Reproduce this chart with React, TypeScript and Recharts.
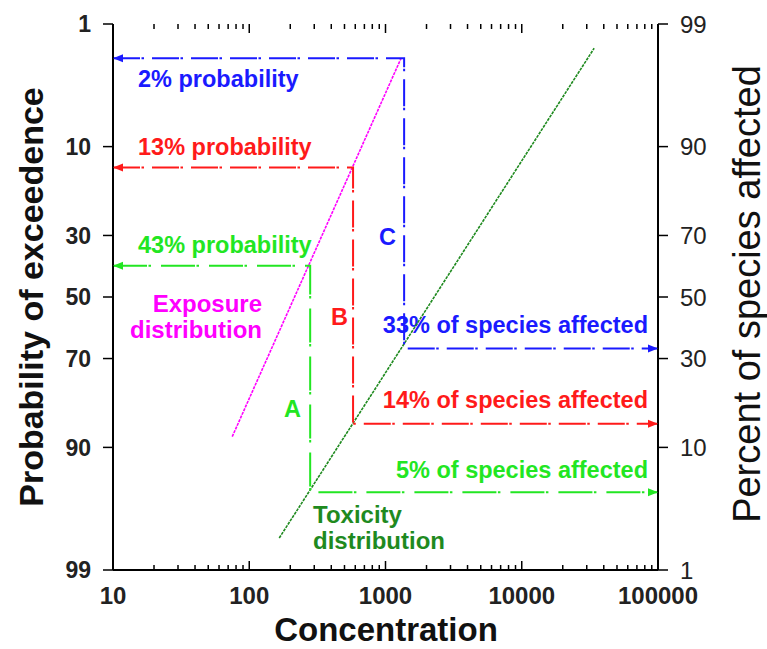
import { ComposedChart, Line, XAxis, YAxis, Customized } from 'recharts'

// inverse of the standard normal cdf (Acklam), used for the probit axis
function probit(p: number): number {
  const a = [-39.69683028665376, 220.9460984245205, -275.9285104469687, 138.357751867269, -30.66479806614716, 2.506628277459239]
  const b = [-54.47609879822406, 161.5858368580409, -155.6989798598866, 66.80131188771972, -13.28068155288572]
  const c = [-0.007784894002430293, -0.3223964580411365, -2.400758277161838, -2.549732539343734, 4.374664141464968, 2.938163982698783]
  const d = [0.007784695709041462, 0.3224671290700398, 2.445134137142996, 3.754408661907416]
  const pl = 0.02425
  if (p < pl) {
    const q = Math.sqrt(-2 * Math.log(p))
    return (((((c[0] * q + c[1]) * q + c[2]) * q + c[3]) * q + c[4]) * q + c[5]) / ((((d[0] * q + d[1]) * q + d[2]) * q + d[3]) * q + 1)
  }
  if (p > 1 - pl) return -probit(1 - p)
  const q = p - 0.5
  const r = q * q
  return ((((((a[0] * r + a[1]) * r + a[2]) * r + a[3]) * r + a[4]) * r + a[5]) * q) / (((((b[0] * r + b[1]) * r + b[2]) * r + b[3]) * r + b[4]) * r + 1)
}

const yTickProbs = [1, 10, 30, 50, 70, 90, 99]
const yLeftLabels = ['1', '10', '30', '50', '70', '90', '99']
const yRightLabels = ['99', '90', '70', '50', '30', '10', '1']
const xTicks = [10, 100, 1000, 10000, 100000]
const xTickLabels = ['10', '100', '1000', '10000', '100000']
const minorMultipliers = [2, 3, 4, 5, 6, 7, 8, 9]
const minorDecades = [10, 100, 1000, 10000]

// exposure distribution (probability of exceedence, %)
const exposureConc = [75, 1300]
const exposureExceed = [88.3, 2.1]
// toxicity distribution (percent of species affected)
const toxicityConc = [166, 34000]
const toxicityAffected = [2.0, 98.3]

// read-off lines: concentration and probability of exceedence (%)
const blueConc = [10, 1370, 1370, 100000]
const blueExceed = [2.1, 2.1, 67, 67]
const redConc = [10, 578, 578, 100000]
const redExceed = [13.5, 13.5, 86, 86]
const greenConc = [10, 280, 280, 100000]
const greenExceed = [39.5, 39.5, 95.2, 95.2]

const FONT = '"Liberation Sans", Arial, Helvetica, sans-serif'
const BLUE = '#1a1aff'
const RED = '#ff1a1a'
const GREEN = '#22e622'
const MAGENTA = '#ff00ff'
const DARKGREEN = '#1f8a1f'

const TOP = 24
const X_LABEL_GAP = 17

const yTicks = yTickProbs.map((p) => probit(p / 100))
const yDomain = [probit(0.01), probit(0.99)]
const minorTicks = minorDecades.flatMap((d) => minorMultipliers.map((m) => m * d))
const allXTicks = [...xTicks, ...minorTicks].sort((a, b) => a - b)

const toRows = (conc: number[], exceed: number[]) =>
  conc.map((x, i) => ({ x, y: probit(exceed[i] / 100) }))

const exposureData = toRows(exposureConc, exposureExceed)
const toxicityData = toRows(toxicityConc, toxicityAffected.map((v) => 100 - v))
const blueData = toRows(blueConc, blueExceed)
const redData = toRows(redConc, redExceed)
const greenData = toRows(greenConc, greenExceed)

const arrowDot = (color: string, count: number) => (props: any) => {
  const { cx, cy, index } = props
  if (index === 0) {
    return <path key={`dot-${index}`} d={`M${cx},${cy} l10,-4 l0,8 z`} fill={color} />
  }
  if (index === count - 1) {
    return <path key={`dot-${index}`} d={`M${cx},${cy} l-10,-4 l0,8 z`} fill={color} />
  }
  return <g key={`dot-${index}`} />
}

// inward tick marks on bottom and top frame, label only on decades
function XTick(props: any) {
  const { x, y, payload } = props
  const major = xTicks.indexOf(payload.value)
  const len = major >= 0 ? 9 : 5
  const base = y - X_LABEL_GAP
  return (
    <g>
      <line x1={x} x2={x} y1={base} y2={base - len} stroke="#000" strokeWidth={1.5} />
      <line x1={x} x2={x} y1={TOP} y2={TOP + len} stroke="#000" strokeWidth={1.5} />
      {major >= 0 && (
        <text x={x} y={y} dy="0.71em" textAnchor="middle" fill="#222" style={{ fontFamily: FONT, fontWeight: 700, fontSize: 24 }}>
          {xTickLabels[major]}
        </text>
      )}
    </g>
  )
}

function Annotations() {
  const lbl = { fontFamily: FONT, fontWeight: 700, fontSize: 23.5 }
  const dist = { fontFamily: FONT, fontWeight: 700, fontSize: 24 }
  return (
    <g>
      <text x={138} y={87} fill={BLUE} style={lbl}>2% probability</text>
      <text x={138} y={155} fill={RED} style={lbl}>13% probability</text>
      <text x={138} y={253} fill={GREEN} style={lbl}>43% probability</text>
      <text x={648} y={333} fill={BLUE} textAnchor="end" style={lbl}>33% of species affected</text>
      <text x={648} y={408} fill={RED} textAnchor="end" style={lbl}>14% of species affected</text>
      <text x={648} y={478} fill={GREEN} textAnchor="end" style={lbl}>5% of species affected</text>
      <text x={379} y={245} fill={BLUE} style={lbl}>C</text>
      <text x={331} y={325} fill={RED} style={lbl}>B</text>
      <text x={284} y={417} fill={GREEN} style={lbl}>A</text>
      <text x={262} y={312} fill={MAGENTA} textAnchor="end" style={dist}>Exposure</text>
      <text x={262} y={338} fill={MAGENTA} textAnchor="end" style={dist}>distribution</text>
      <text x={313} y={523} fill={DARKGREEN} style={dist}>Toxicity</text>
      <text x={313} y={549} fill={DARKGREEN} style={dist}>distribution</text>
      <text x={386} y={641} textAnchor="middle" fill="#111" style={{ fontFamily: FONT, fontWeight: 700, fontSize: 33 }}>
        Concentration
      </text>
      <text x={43} y={297} textAnchor="middle" transform="rotate(-90 43 297)" fill="#111" style={{ fontFamily: FONT, fontWeight: 700, fontSize: 34 }}>
        Probability of exceedence
      </text>
      <text x={760} y={294} textAnchor="middle" transform="rotate(-90 760 294)" fill="#111" style={{ fontFamily: FONT, fontWeight: 400, fontSize: 38 }}>
        Percent of species affected
      </text>
    </g>
  )
}

export default function App() {
  const axisLine = { stroke: '#000', strokeWidth: 2 }
  const tickLine = { stroke: '#000', strokeWidth: 1.5 }
  return (
    <div style={{ position: 'absolute', left: 0, top: 0, width: 767, height: 649, background: '#fff' }}>
      <ComposedChart width={767} height={649} margin={{ top: TOP, right: 0, bottom: 0, left: 0 }}>
        <XAxis
          xAxisId="main"
          dataKey="x"
          type="number"
          scale="log"
          domain={[10, 100000]}
          allowDataOverflow
          ticks={allXTicks}
          height={79}
          tickLine={false}
          tickSize={0}
          tickMargin={X_LABEL_GAP}
          axisLine={axisLine}
          tick={<XTick />}
          interval={0}
        />
        <XAxis xAxisId="frameTop" dataKey="x" type="number" scale="log" domain={[10, 100000]} allowDataOverflow orientation="top" mirror height={0} tick={false} tickLine={false} axisLine={axisLine} />
        <YAxis
          yAxisId="left"
          dataKey="y"
          type="number"
          domain={yDomain}
          allowDataOverflow
          reversed
          ticks={yTicks}
          tickFormatter={(_v: number, i: number) => yLeftLabels[i]}
          width={113}
          tickSize={10}
          tickMargin={12}
          tickLine={tickLine}
          axisLine={axisLine}
          tick={{ fill: '#222', fontSize: 23, fontWeight: 700, fontFamily: FONT }}
          interval={0}
        />
        <YAxis
          yAxisId="right"
          orientation="right"
          dataKey="y"
          type="number"
          domain={yDomain}
          allowDataOverflow
          reversed
          ticks={yTicks}
          tickFormatter={(_v: number, i: number) => yRightLabels[i]}
          width={109}
          tickSize={10}
          tickMargin={12}
          tickLine={tickLine}
          axisLine={axisLine}
          tick={{ fill: '#222', fontSize: 24, fontWeight: 400, fontFamily: FONT }}
          interval={0}
        />
        <Line xAxisId="main" yAxisId="left" data={exposureData} dataKey="y" type="linear" stroke={MAGENTA} strokeWidth={1.6} strokeDasharray="3 1" dot={false} isAnimationActive={false} />
        <Line xAxisId="main" yAxisId="left" data={toxicityData} dataKey="y" type="linear" stroke={DARKGREEN} strokeWidth={1.6} strokeDasharray="3 1" dot={false} isAnimationActive={false} />
        <Line xAxisId="main" yAxisId="left" data={blueData} dataKey="y" type="linear" stroke={BLUE} strokeWidth={2} strokeDasharray="27 1.5 2.5 8" dot={arrowDot(BLUE, blueData.length)} isAnimationActive={false} />
        <Line xAxisId="main" yAxisId="left" data={redData} dataKey="y" type="linear" stroke={RED} strokeWidth={2} strokeDasharray="27 1.5 2.5 8" dot={arrowDot(RED, redData.length)} isAnimationActive={false} />
        <Line xAxisId="main" yAxisId="left" data={greenData} dataKey="y" type="linear" stroke={GREEN} strokeWidth={2} strokeDasharray="34 1.5 2.5 10" dot={arrowDot(GREEN, greenData.length)} isAnimationActive={false} />
        <Customized component={Annotations} />
      </ComposedChart>
    </div>
  )
}
